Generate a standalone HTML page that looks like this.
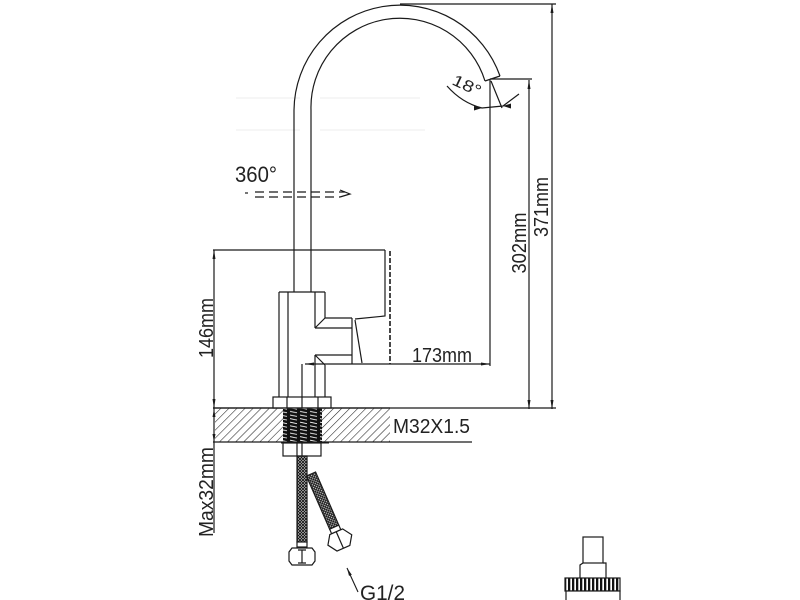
<!DOCTYPE html>
<html><head><meta charset="utf-8">
<style>html,body{margin:0;padding:0;background:#fff}svg{display:block}</style></head>
<body>
<svg width="800" height="600" viewBox="0 0 800 600" xmlns="http://www.w3.org/2000/svg">
<defs>
<pattern id="hatch" width="5.7" height="5.7" patternUnits="userSpaceOnUse" patternTransform="rotate(45)"><line x1="0" y1="0" x2="0" y2="5.7" stroke="#222" stroke-width="1.1"/></pattern>
<pattern id="thr" width="10" height="3.6" patternUnits="userSpaceOnUse"><rect width="10" height="3.6" fill="#111"/><line x1="0" y1="1" x2="7" y2="2.4" stroke="#fff" stroke-width="0.8"/></pattern>
<pattern id="braid" width="3" height="3" patternUnits="userSpaceOnUse"><rect width="3" height="3" fill="#ddd"/><path d="M0,0L3,3M3,0L0,3" stroke="#111" stroke-width="0.9"/></pattern>
<pattern id="knurl" width="4" height="20" patternUnits="userSpaceOnUse"><rect width="2.3" height="20" fill="#111"/></pattern>
</defs>

<!-- faint ghost lines -->
<g stroke="#ececec" stroke-width="1" fill="none">
<path d="M236,98 L300,98 M320,98 L420,98"/>
<path d="M236,130 L300,130 M320,130 L425,130"/>
</g>

<g fill="none" stroke="#1a1a1a" stroke-width="1.2">
<!-- spout -->
<path d="M294,292 L294,110 A106,106 0 0 1 500,76"/>
<path d="M311,292 L311,110 A89,89 0 0 1 485,81"/>
<path d="M485,81 L500,76"/>

<!-- 18 deg -->
<path d="M491,81 L502,108"/>
<path d="M447,86 Q462,103 482,108 L503,106 L519,94"/>

<!-- right dims -->
<path d="M490,79 L532,79"/>
<path d="M490,80 L490,366"/>
<path d="M529,80 L529,409"/>
<path d="M400,4 L556,4"/>
<path d="M552,4 L552,409"/>
<path d="M213,408 L556,408"/>

<!-- 173 dim -->
<path d="M305,364 L490,364"/>

<!-- 146 / max32 -->
<path d="M213,250 L385,250"/>
<path d="M214,250 L214,533"/>

<!-- body -->
<path d="M279,292 L325,292"/>
<path d="M279,292 L279,397 M288,292 L288,397"/>
<path d="M315,292 L315,328 M325,292 L325,318"/>
<path d="M325,318 L352,318 M315,328 L352,328 M315,328 L325,318"/>
<path d="M315,355 L352,355 M315,355 L325,365 M325,365 L325,397 M315,355 L315,397 M302,364 L302,397"/>

<!-- handle -->
<path d="M352,318 L352,364"/>
<path d="M355,319 L385,316 L385,250"/>
<path d="M390,251 L390,364" stroke-dasharray="5,2" stroke-width="1.6"/>
<path d="M355,320 L362,363"/>

<!-- nut -->
<rect x="273" y="397" width="58" height="11" fill="#fff"/>
<path d="M287,397 L287,408 M302,397 L302,408 M318,397 L318,408"/>
</g>

<!-- countertop -->
<rect x="215" y="408.6" width="68" height="33.4" fill="url(#hatch)"/>
<rect x="322" y="408.6" width="68" height="33.4" fill="url(#hatch)"/>
<rect x="283" y="408.6" width="39" height="33.4" fill="url(#thr)"/>
<g fill="none" stroke="#1a1a1a" stroke-width="1.2">
<path d="M213,408 L390,408"/>
<path d="M213,442 L472,442"/>
<path d="M281,442.5 L329,442.5" stroke-width="2"/>
<rect x="283" y="443" width="38" height="13" fill="#fff"/>
<path d="M297,443 L297,456 M302,443 L302,456"/>
</g>

<!-- hoses -->
<g stroke="#1a1a1a" stroke-width="1.2">
<rect x="297" y="456" width="10" height="86" fill="url(#braid)"/>
<g transform="translate(311,474) rotate(-23.6)">
<rect x="-5" y="0" width="10" height="58" fill="url(#braid)"/>
<rect x="-5" y="58" width="10" height="5" fill="#fff"/>
<polygon points="-13,72 -7,63 7,63 13,72 7,81 -7,81" fill="#fff"/>
<path d="M0,63 L0,81" fill="none"/>
</g>
<rect x="297" y="542" width="10" height="5" fill="#fff"/>
<polygon points="292,548 312,548 315,552 315,561 312,565 292,565 289,561 289,552" fill="#fff"/>
<path d="M302,550 L302,563 M298,550 L306,550 M298,563 L306,563" fill="none"/>
</g>

<!-- G1/2 leader -->
<path d="M347,568 L358,592" stroke="#1a1a1a" stroke-width="1.1" fill="none"/>
<polygon points="347,568 351.8,574.7 349,575.9" fill="#1a1a1a"/>

<!-- 360 arrow -->
<g stroke="#1a1a1a" stroke-width="1.2" fill="none">
<path d="M245,193 L248,193"/>
<path d="M255,192 L345,192" stroke-dasharray="9,5"/>
<path d="M255,197 L340,197" stroke-dasharray="9,5"/>
<path d="M340,190 L350,194 L340,197"/>
</g>

<!-- arrowheads -->
<g fill="#1a1a1a">
<polygon points="474,106 482,108 474,110.5"/>
<polygon points="511,103.5 503,106 511,108.5"/>
<polygon points="527.5,89 529,80 530.5,89"/>
<polygon points="527.5,400 529,409 530.5,400"/>
<polygon points="550.5,13 552,4 553.5,13"/>
<polygon points="550.5,400 552,409 553.5,400"/>
<polygon points="314,362.5 305,364 314,365.5"/>
<polygon points="481,362.5 490,364 481,365.5"/>
<polygon points="212.5,259 214,250 215.5,259"/>
<polygon points="212.5,399 214,408 215.5,399"/>
<polygon points="212.5,417 214,409 215.5,417"/>
<polygon points="212.5,434 214,442 215.5,434"/>
</g>

<!-- bottom right object -->
<g stroke="#1a1a1a" stroke-width="1.2">
<rect x="583" y="537" width="20" height="26" fill="#fff"/>
<path d="M583,563 L580,565 L580,578 M603,563 L606,563 L606,578" fill="none"/>
<rect x="565" y="578" width="55" height="13" fill="url(#knurl)"/>
<rect x="566" y="591" width="54" height="14" fill="#fff"/>
</g>

<!-- text -->
<g font-family="'Liberation Sans', sans-serif" fill="#222">
<text x="235" y="182" font-size="22" textLength="42" lengthAdjust="spacingAndGlyphs">360°</text>
<text x="412" y="362" font-size="20" textLength="60" lengthAdjust="spacingAndGlyphs">173mm</text>
<text x="393" y="433" font-size="20" textLength="77" lengthAdjust="spacingAndGlyphs">M32X1.5</text>
<text x="360" y="600" font-size="21" textLength="45" lengthAdjust="spacingAndGlyphs">G1/2</text>
<text transform="translate(548,207) rotate(-90)" font-size="20" text-anchor="middle" textLength="60" lengthAdjust="spacingAndGlyphs">371mm</text>
<text transform="translate(526,243) rotate(-90)" font-size="20" text-anchor="middle" textLength="61" lengthAdjust="spacingAndGlyphs">302mm</text>
<text transform="translate(213,328) rotate(-90)" font-size="20" text-anchor="middle" textLength="60" lengthAdjust="spacingAndGlyphs">146mm</text>
<text transform="translate(213,492) rotate(-90)" font-size="20" text-anchor="middle" textLength="90" lengthAdjust="spacingAndGlyphs">Max32mm</text>
<text transform="translate(451,84) rotate(25)" font-size="16" textLength="30" lengthAdjust="spacingAndGlyphs">18°</text>
</g>
</svg>
</body></html>
